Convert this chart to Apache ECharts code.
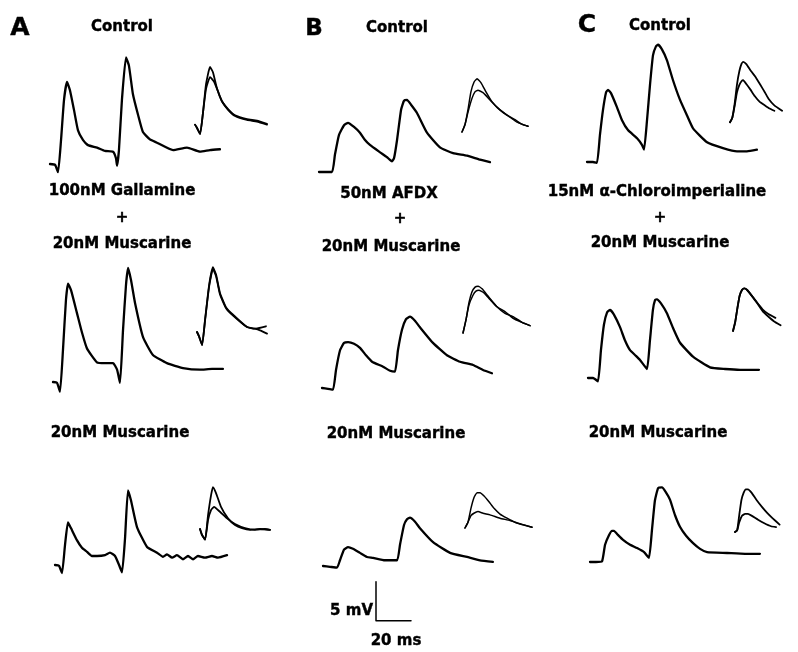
<!DOCTYPE html>
<html><head><meta charset="utf-8">
<script src="https://cdn.jsdelivr.net/npm/echarts@6/dist/echarts.min.js"></script>
<style>html,body{margin:0;padding:0;background:#fff}#c{width:798px;height:652px}</style>
</head><body><div id="c"></div>
<script>
// ---- Data: time (ms), membrane potential (mV, relative to start of trace) ----
const traceA1 = [[0,0],[2.9,-0.1],[4.6,-1.0],[6.3,2.9],[8,7.8],[9.7,10],[11.4,9.0],[13.7,6.6],[16,4.1],[18.9,2.9],[21.7,2.3],[26.9,2.0],[31.4,1.6],[36,1.5],[37.7,0.7],[38.3,-0.2],[39.4,1.7],[41.1,7.8],[43.4,13],[45.1,12.0],[47.4,8.5],[50.3,6.0],[53.1,3.9],[57.1,3.0],[61.1,2.6],[70.3,1.7],[78.3,2.0],[85.7,1.5],[91.4,1.7],[97.1,1.8]];
const insetA1a = [[0,0],[1.1,-0.4],[2.9,-1.2],[4.6,1.6],[6.3,5.2],[8.6,7.4],[10.3,6.7],[12.6,4.6],[15.4,3.0],[18.9,2.0],[22.9,1.2],[29.7,0.7],[35.4,0.5],[41.1,0.1]];
const insetA1b = [[0,0],[1.1,-0.4],[2.9,-1.2],[4.6,1.6],[6.3,4.6],[8.6,6.1],[10.9,5.5],[13.1,4.3],[15.4,3.0],[18.9,1.9],[22.9,1.1],[29.7,0.6],[35.4,0.4],[41.1,0.0]];
const traceA2 = [[0,0],[2.3,-0.1],[4,-1.2],[5.7,3.9],[7.4,10],[8.6,12],[10.3,11.2],[13.7,8.4],[16.6,6.0],[19.4,4.1],[25.1,2.4],[29.7,2.3],[34.3,2.3],[36.6,1.5],[38.3,-0.1],[40,6.3],[41.7,11.8],[42.9,13.9],[44.6,12.4],[46.9,9.6],[51.4,5.5],[57.1,3.3],[65.1,2.3],[74.3,1.7],[84,1.5],[90.9,1.6],[97.1,1.6]];
const insetA2a = [[0,0],[1.1,-0.5],[2.9,-1.6],[4.6,1.5],[6.9,5.7],[9.1,7.9],[10.9,7.0],[13.1,4.8],[16.6,3.0],[20.6,2.1],[28.6,0.6],[33.1,0.4],[37.7,0.6],[39.4,0.7]];
const insetA2b = [[0,0],[1.1,-0.5],[2.9,-1.6],[4.6,1.4],[6.9,5.5],[9.1,7.7],[10.9,6.8],[13.1,4.6],[16.6,2.9],[20.6,2.0],[28.6,0.6],[33.1,0.4],[36,0.2],[40,-0.2]];
const traceA3 = [[0,0],[2.3,-0.1],[4,-1.0],[5.7,2.4],[7.4,5.2],[9.1,4.5],[12.6,3.0],[15.4,2.1],[18.3,1.6],[21.1,1.1],[24,1.1],[28.6,1.2],[31.4,1.5],[34.3,1.1],[36.6,0],[38.3,-0.9],[40,3.2],[41.7,9.1],[43.4,7.9],[46.9,4.6],[52.6,2.2],[58.3,1.5],[61.7,1.0],[64,1.3],[66.9,0.9],[69.7,1.2],[73.1,0.7],[76,1.1],[78.9,0.7],[81.7,1.1],[85.7,0.9],[89.7,1.1],[93.1,0.9],[98.3,1.2]];
const insetA3a = [[0,0],[1.1,-0.7],[2.9,-1.3],[4.6,1.7],[6.3,4.1],[7.4,5.1],[9.1,4.4],[12,2.7],[16,1.3],[20,0.5],[24,0.1],[28.6,-0.1],[34.3,0],[40,-0.1]];
const insetA3b = [[0,0],[1.1,-0.7],[2.9,-1.3],[4.6,1.1],[6.3,2.3],[8,2.7],[11.4,2.1],[16,1.2],[20,0.6],[25.7,0.1],[31.4,-0.1],[37.1,0],[40,-0.1]];
const traceB1 = [[0,0],[7.4,0],[9.1,2.1],[11.4,4.5],[14.3,5.7],[16.6,6.0],[20,5.5],[23.4,4.8],[26.3,3.9],[29.1,3.3],[34.9,2.4],[38.9,1.8],[41.7,1.3],[42.9,1.7],[44.6,3.9],[46.9,7.6],[48.6,8.7],[50.3,8.8],[52.6,8.2],[56,7.2],[61.7,4.8],[69.1,3.0],[76.6,2.3],[84.6,2.0],[92,1.5],[97.7,1.2]];
const insetB1a = [[0,0],[1.7,0.9],[3.4,2.7],[5.1,4.9],[6.9,6.1],[8.6,6.5],[10.9,6.0],[13.7,4.9],[17.1,3.7],[21.7,2.7],[26.3,2.0],[30.3,1.5],[33.7,1.0],[37.7,0.7]];
const insetB1b = [[0,0],[1.7,0.9],[3.4,2.4],[5.7,4.1],[7.4,4.9],[9.1,5.1],[12,4.8],[16,3.9],[20,3.0],[23.4,2.4],[27.4,1.8],[31.4,1.2],[34.9,0.9],[37.7,0.7]];
const traceB2 = [[0,0],[3.4,-0.1],[6.3,-0.2],[8,2.2],[10.3,4.6],[12.6,5.5],[14.9,5.6],[18.3,5.4],[21.7,4.9],[25.1,4.0],[28.6,3.2],[34.9,2.6],[38.9,2.1],[41.7,2.0],[43.4,4.6],[45.7,7.1],[48,8.4],[50.3,8.7],[53.1,8.2],[56,7.4],[63.4,5.5],[71.4,4.0],[78.9,3.2],[86.3,2.8],[92,2.2],[97.1,1.8]];
const insetB2a = [[0,0],[1.7,1.6],[3.4,3.7],[5.1,5.0],[6.9,5.6],[8.6,5.7],[10.9,5.4],[14.3,4.5],[19.4,3.2],[24,2.4],[28.6,2.0],[33.7,1.3],[38.3,0.9]];
const insetB2b = [[0,0],[1.7,1.6],[3.4,3.4],[5.7,4.6],[7.4,5.1],[9.1,5.2],[12,4.9],[15.4,4.1],[19.4,3.2],[24,2.6],[28.6,1.8],[33.7,1.3],[38.3,0.9]];
const traceB3 = [[0,0],[4,-0.1],[8,-0.2],[9.7,0.7],[12,2.0],[14.3,2.3],[17.1,2.1],[21.1,1.6],[25.1,1.1],[28.6,1.0],[35.4,0.7],[42.3,0.7],[44,2.6],[46.3,5.0],[48,5.7],[49.7,5.9],[52.6,5.4],[55.4,4.6],[62.9,2.9],[72.6,1.6],[82.3,1.1],[89.7,0.7],[97.1,0.5]];
const insetB3a = [[0,0],[1.7,0.7],[3.4,2.4],[5.1,3.7],[6.9,4.3],[8.6,4.3],[10.9,3.9],[13.7,3.2],[16.6,2.4],[20,1.7],[24,1.2],[28.6,0.7],[33.1,0.4],[38.3,0.1]];
const insetB3b = [[0,0],[1.7,0.7],[3.4,1.5],[5.1,1.8],[7.4,2.0],[10.3,1.8],[14.3,1.6],[20,1.2],[25.7,0.9],[31.4,0.5],[38.3,0.1]];
const traceC1 = [[0,0],[3.4,0],[5.7,-0.1],[7.4,3.3],[9.1,6.3],[10.9,8.5],[12,8.8],[13.7,8.4],[17.1,6.7],[20,5.1],[23.4,3.9],[28.6,2.9],[31.4,2.1],[32.6,1.5],[34.3,5.1],[36,9.4],[37.7,13],[39.4,14.1],[40.6,14.3],[42.9,13.7],[45.7,12.4],[49.1,10],[53.1,7.6],[57.1,5.7],[60.6,4.1],[68.6,2.4],[77.7,1.7],[85.7,1.3],[91.4,1.3],[97.1,1.5]];
const insetC1a = [[0,0],[1.7,0.6],[3.4,2.4],[5.1,4.9],[6.9,6.7],[8.6,7.7],[9.7,7.9],[12,7.6],[15.4,6.7],[18.9,5.9],[22.3,4.9],[25.7,3.9],[28.6,3.0],[32.6,2.2],[38.3,1.5]];
const insetC1b = [[0,0],[1.7,0.6],[3.4,2.1],[5.1,3.9],[6.9,4.9],[8.6,5.4],[9.7,5.5],[12,5.0],[14.9,4.3],[18.3,3.4],[21.7,2.7],[25.7,2.2],[29.1,1.8],[32.6,1.5]];
const traceC2 = [[0,0],[2.9,0],[5.7,-0.4],[7.4,3.4],[9.1,6.5],[10.9,8.0],[12.6,8.3],[14.9,7.7],[18.3,6.2],[21.1,4.6],[24,3.4],[27.4,2.7],[29.7,2.2],[33.7,1.1],[35.4,4.6],[37.1,8.3],[38.3,9.5],[39.4,9.6],[41.7,9.1],[45.1,7.9],[48.6,6.1],[52.6,4.3],[60,2.6],[69.7,1.3],[78.3,1.1],[86.9,1.0],[97.7,1.0]];
const insetC2a = [[0,0],[1.7,1.1],[3.4,2.8],[5.1,4.3],[6.9,5.0],[8.6,5.2],[10.9,5.0],[15.4,4.1],[19.4,3.3],[22.9,2.6],[26.9,2.1],[32.6,1.6]];
const insetC2b = [[0,0],[1.7,1.1],[3.4,2.8],[5.1,4.3],[6.9,5.0],[8.6,5.2],[10.9,5.0],[15.4,4.1],[19.4,3.2],[22.9,2.4],[26.9,1.8],[31.4,1.2],[36.6,0.7]];
const traceC3 = [[0,0],[3.4,0],[6.9,0.1],[8.6,2.1],[10.9,3.3],[12.6,3.8],[13.7,3.8],[16,3.3],[18.9,2.7],[22.9,2.1],[26.9,1.7],[30.9,1.2],[33.7,0.5],[35.4,3.9],[37.1,7.5],[38.9,9.0],[41.1,9.1],[43.4,8.5],[45.7,7.6],[48.6,5.7],[51.4,4.3],[54.9,3.2],[58.9,2.3],[62.9,1.6],[66.9,1.2],[78.3,1.1],[88.6,1.0],[97.1,1.0]];
const insetC3a = [[0,0],[1.7,0.2],[3.4,2.1],[5.1,3.9],[6.9,4.8],[8.6,5.2],[10.3,5.2],[13.1,4.8],[17.1,3.9],[21.7,3.0],[25.7,2.3],[29.7,1.7],[35.4,0.9]];
const insetC3b = [[0,0],[1.7,0.2],[3.4,1.2],[5.7,2.0],[8,2.2],[10.3,2.2],[13.1,2.0],[18.3,1.5],[22.9,1.1],[28.6,0.7],[32.6,0.6]];
const scaleBar = [[0,5],[0,0],[20,0]]; // 5 mV, 20 ms

// ---- Text ----
const panelLetters = ['A','B','C'];
const row1Labels = ['Control','Control','Control'];
const row2Line1 = ['100nM Gallamine','50nM AFDX','15nM \u03b1-Chloroimperialine'];
const row2Line3 = ['20nM Muscarine','20nM Muscarine','20nM Muscarine'];
const row3Labels = ['20nM Muscarine','20nM Muscarine','20nM Muscarine'];
const scaleLabels = ['5 mV','20 ms'];

// ---- Layout (pixel anchors of t=0, v=0 for each trace) ----
const PX_MS = 1.75, PX_MV = 8.2, V_MIN = -4, V_MAX = 16;
const traces = [
  {d:[traceA1], a:[50,164], tmax:100}, {d:[insetA1a,insetA1b], a:[195,123], tmax:50, w:1.8},
  {d:[traceA2], a:[53,382], tmax:100}, {d:[insetA2a,insetA2b], a:[197,332], tmax:50, w:1.8},
  {d:[traceA3], a:[55,565], tmax:100}, {d:[insetA3a,insetA3b], a:[200,529], tmax:50, w:1.8},
  {d:[traceB1], a:[319,172], tmax:100}, {d:[insetB1a,insetB1b], a:[462,132], tmax:50, w:1.5},
  {d:[traceB2], a:[322,388], tmax:100}, {d:[insetB2a,insetB2b], a:[463,333], tmax:50, w:1.5},
  {d:[traceB3], a:[323,566], tmax:100}, {d:[insetB3a,insetB3b], a:[465,528], tmax:50, w:1.5},
  {d:[traceC1], a:[587,162], tmax:100}, {d:[insetC1a,insetC1b], a:[730,120], tmax:50, w:1.8},
  {d:[traceC2], a:[588,378], tmax:100}, {d:[insetC2a,insetC2b], a:[733,331], tmax:50, w:1.8},
  {d:[traceC3], a:[590,562], tmax:100}, {d:[insetC3a,insetC3b], a:[735,532], tmax:50, w:1.8},
  {d:[scaleBar], a:[376,627], tmax:50, w:1.5, sharp:true}
];

const grid=[], xAxis=[], yAxis=[], series=[];
traces.forEach((tr,i)=>{
  grid.push({left:tr.a[0], top:tr.a[1]-V_MAX*PX_MV, width:tr.tmax*PX_MS, height:(V_MAX-V_MIN)*PX_MV});
  xAxis.push({type:'value', gridIndex:i, min:0, max:tr.tmax, show:false});
  yAxis.push({type:'value', gridIndex:i, min:V_MIN, max:V_MAX, show:false});
  tr.d.forEach(d=>series.push({type:'line', xAxisIndex:i, yAxisIndex:i, data:d, showSymbol:false,
    smooth: tr.sharp ? false : 0.15, clip:false, silent:true,
    lineStyle:{color:'#000', width:tr.w||2.3, join:'round', cap:'round'}}));
});

const FONT = '"DejaVu Sans", Arial, sans-serif';
function txt(s,x,y,size,align){return {type:'text', x:x, y:y, style:{text:s, fill:'#000', font:'bold '+size+'px '+FONT, textAlign:align||'center', textVerticalAlign:'middle', stroke:'#000', lineWidth:0.4}};}
const graphic = [
  txt(panelLetters[0],20,28,25), txt(panelLetters[1],314,29,23), txt(panelLetters[2],587,25,25),
  txt(row1Labels[0],122,27,15), txt(row1Labels[1],397,28,15), txt(row1Labels[2],660,26,15),
  txt(row2Line1[0],122,191,15), txt(row2Line1[1],389,194,15), txt(row2Line1[2],657,192,15),
  txt('+',122,218,15), txt('+',400,219,15), txt('+',660,218,15),
  txt(row2Line3[0],122,244,15), txt(row2Line3[1],391,247,15), txt(row2Line3[2],660,243,15),
  txt(row3Labels[0],120,433,15), txt(row3Labels[1],396,434,15), txt(row3Labels[2],658,433,15),
  txt(scaleLabels[0],373,611,15,'right'), txt(scaleLabels[1],396,641,15)
];

const chart = echarts.init(document.getElementById('c'), null, {renderer:'canvas'});
chart.setOption({animation:false, backgroundColor:'#fff', grid, xAxis, yAxis, series, graphic});
</script></body></html>
